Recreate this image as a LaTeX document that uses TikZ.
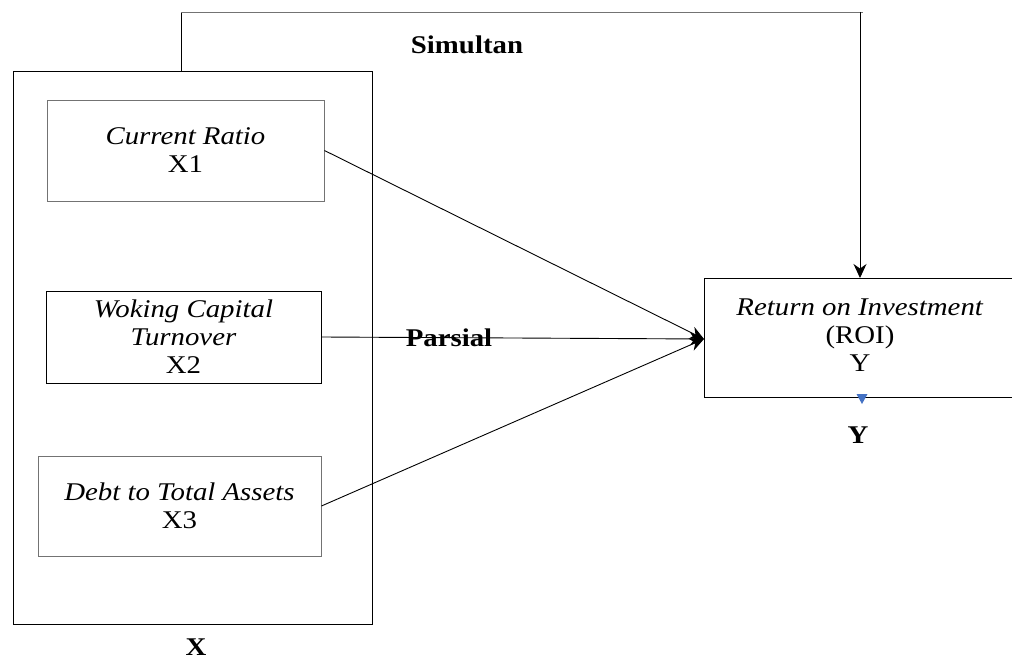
\documentclass[tikz,border=0pt]{standalone}
\usepackage{fontspec}
\setmainfont{Liberation Serif}[FakeStretch=1.13]
\usetikzlibrary{arrows.meta}
\definecolor{blueY}{HTML}{4472C4}
\begin{document}
\begin{tikzpicture}[x=1pt,y=-1pt,
  box/.style={draw, rectangle, inner sep=0pt, align=center, line width=0.9pt,
    font=\fontsize{25.5}{28}\selectfont},
  graybox/.style={box, draw=black!55},
  lbl/.style={inner sep=0pt, font=\bfseries\fontsize{25.5}{28}\selectfont},
  con/.style={line width=0.9pt, -{Stealth[length=14pt,width=13pt]}}]
\useasboundingbox (0,0) rectangle (1012,660);
% outer X group
\node[box, minimum width=359pt, minimum height=553pt] (outer) at (192.5,347.5) {};
% variable boxes
\node[graybox, minimum width=277pt, minimum height=101pt] (x1) at (185.5,150.5)
  {\textit{Current Ratio}\\X1};
\node[box, minimum width=275pt, minimum height=92pt] (x2) at (183.5,337)
  {\textit{Woking Capital}\\\textit{Turnover}\\X2};
\node[graybox, minimum width=283pt, minimum height=100pt] (x3) at (179.5,506)
  {\textit{Debt to Total Assets}\\X3};
% ROI box (right side runs past the page edge)
\node[box, minimum width=330pt, minimum height=119pt, anchor=north west] (roi) at (704,278) {};
\node[inner sep=0pt, align=center, font=\fontsize{25.5}{28}\selectfont] (roitext) at (860,335)
  {\textit{Return on Investment}\\(ROI)\\Y};
% labels
\node[lbl] (sim) at (467,45) {Simultan};
\node[lbl] (par) at (449,338) {Parsial};
\node[lbl] (ylbl) at (858,435) {Y};
\node[lbl] (xlbl) at (196,647) {X};
% connectors
\coordinate (topL) at (181,12);
\coordinate (topR) at (860,12);
\coordinate (roiTop) at (860,278);
\coordinate (roiIn) at (704,339);
\draw[line width=0.9pt] (outer.north -| topL) -- (topL);
\draw[line width=0.9pt, black!55] (topL) -- (863,12);
\draw[con] (topR) -- (roiTop);
\draw[con] (x1.east) -- (roiIn);
\draw[con] (x2.east) -- (roiIn);
\draw[con] (x3.east) -- (roiIn);
% small blue marker
\coordinate (ytip) at (862,404);
\fill[blueY] (ytip) -- ++(-5.5,-10) -- ++(11,0) -- cycle;
\end{tikzpicture}
\end{document}
